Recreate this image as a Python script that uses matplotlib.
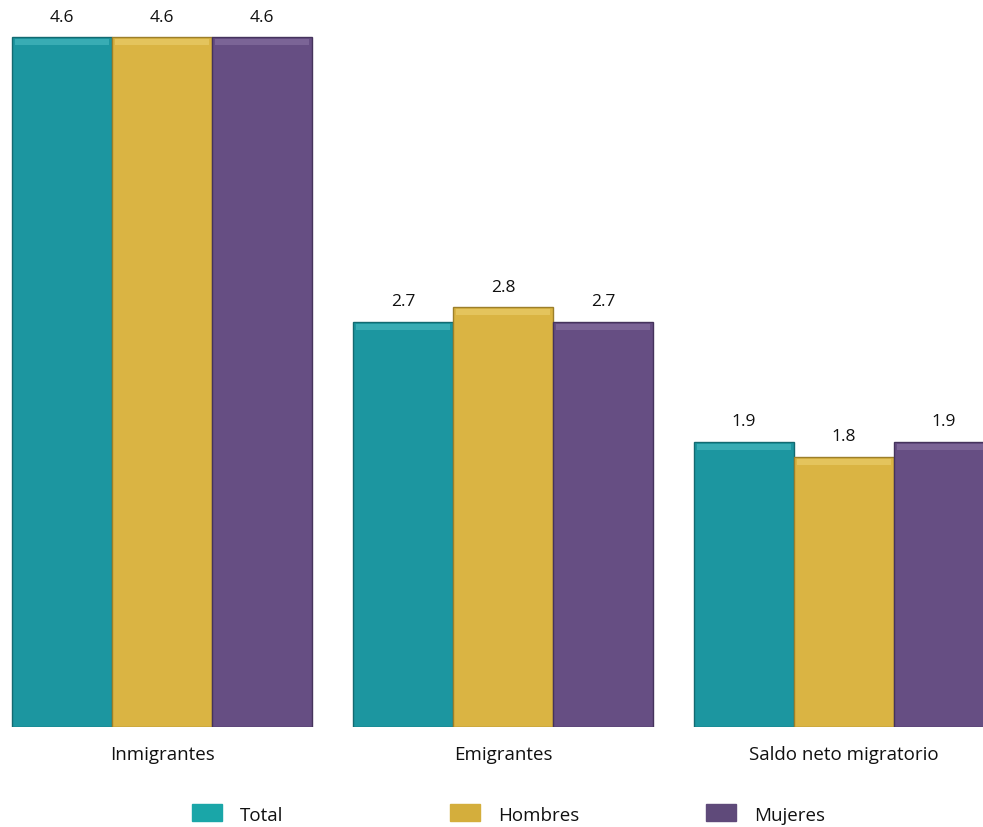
import matplotlib.pyplot as plt
from matplotlib.patches import Rectangle
import numpy as np

plt.rcParams['font.family'] = ['Open Sans', 'DejaVu Sans']

categories = ['Inmigrantes', 'Emigrantes', 'Saldo neto migratorio']
series = ['Total', 'Hombres', 'Mujeres']
total = [4.6, 2.7, 1.9]
hombres = [4.6, 2.8, 1.8]
mujeres = [4.6, 2.7, 1.9]

bar_colors = ['#1c96a0', '#dab443', '#664e83']
edge_colors = ['#136a71', '#9c7f2a', '#45335c']
top_colors = ['#4cbcc3', '#ecd070', '#8a74a4']
legend_colors = ['#1aa6a8', '#d4ae3c', '#5f4a7a']

fig = plt.figure(figsize=(9.83, 8.28), dpi=100)
W, H = 983, 828
ax = fig.add_axes([0, (H - 728) / H, 1, 728 / H])

width = 100 / 341
x = np.arange(len(categories))
values = [total, hombres, mujeres]
for i, vals in enumerate(values):
    pos = x + (i - 1) * width
    ax.bar(pos, vals, width, color=bar_colors[i], edgecolor=edge_colors[i], linewidth=1.0)
    # bevel highlight on top
    ax.bar(pos, [0.04] * len(vals), width * 0.94, bottom=np.array(vals) - 0.055,
           color=top_colors[i], linewidth=0, alpha=0.6)
    for p, v in zip(pos, vals):
        ax.annotate(f'{v:.1f}', (p, v), xytext=(0, 9), textcoords='offset points',
                    ha='center', va='bottom', fontsize=12.5, color='#111111')

ax.set_xlim((0 - 162) / 341, (W - 162) / 341)
ax.set_ylim(0, 728 / 150)
ax.set_xticks(x)
ax.set_xticklabels(categories, fontsize=13.5, color='#111111')
ax.tick_params(axis='x', length=0, pad=13)
ax.set_yticks([])
for s in ax.spines.values():
    s.set_visible(False)

# legend
leg_x = [192, 450, 706]
for c, name, lx in zip(legend_colors, series, leg_x):
    fig.patches.append(Rectangle((lx / W, (H - 822) / H), 30 / W, 17 / H,
                                 transform=fig.transFigure, color=c))
    fig.text((lx + 48) / W, (H - 816) / H, name, fontsize=13.5, va='center',
             ha='left', color='#111111')

fig.savefig('out.png', dpi=100)
